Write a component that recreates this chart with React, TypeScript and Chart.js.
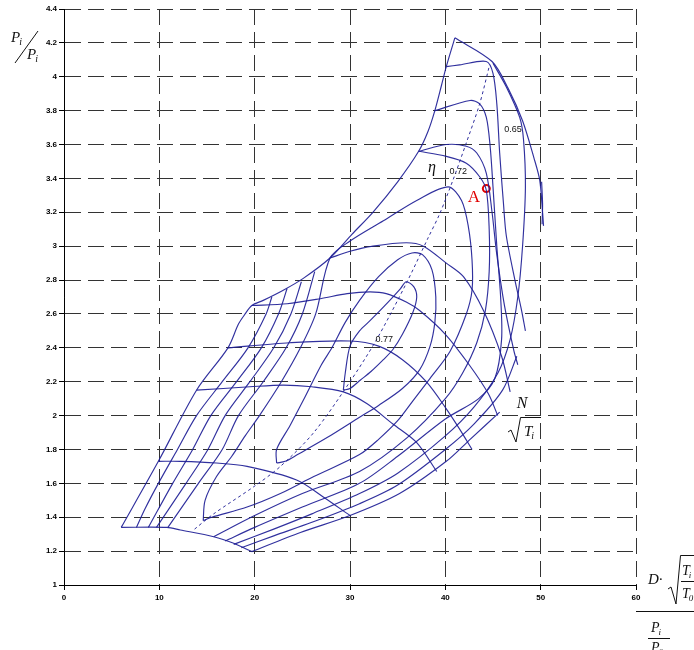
import React, { useEffect, useRef } from "react";
import { Chart, registerables } from "chart.js";
Chart.register(...registerables);

type Pt = [number, number];

const xTickValues = [0, 10, 20, 30, 40, 50, 60];
const yTickValues = [1, 1.2, 1.4, 1.6, 1.8, 2, 2.2, 2.4, 2.6, 2.8, 3, 3.2, 3.4, 3.6, 3.8, 4, 4.2, 4.4];

// map boundaries
const surgeLine: Pt[] = [[6, 1.34], [9.9, 1.73], [13.9, 2.15], [17.2, 2.4], [18.3, 2.54], [19, 2.6], [19.7, 2.65], [20.9, 2.68], [23, 2.74], [25.1, 2.81], [27.9, 2.93], [30.2, 3.07], [32.4, 3.2], [35, 3.38], [37.2, 3.56], [38.2, 3.68], [38.9, 3.8], [39.6, 3.95], [40.1, 4.06], [41, 4.23]];
const topLine: Pt[] = [[41, 4.23], [44.9, 4.09], [46.6, 3.93], [48.1, 3.74], [49.3, 3.52], [49.9, 3.39], [50.2, 3.2], [50.3, 3.12]];
const topStub: Pt[] = [[50.1, 3.38], [50.2, 3.25], [50.15, 3.13]];
const bottomLine: Pt[] = [[6, 1.34], [10.8, 1.34], [12.2, 1.325], [15.7, 1.285], [17.8, 1.246], [19.7, 1.197]];

// speed lines N/sqrt(Ti)
const speed1: Pt[] = [[9.9, 1.73], [12.2, 1.73], [16, 1.72], [19.2, 1.7], [24.4, 1.62], [27.2, 1.52], [30, 1.41]];
const speed2: Pt[] = [[13.9, 2.15], [19.5, 2.17], [23, 2.18], [26, 2.17], [29.3, 2.14], [31.8, 2.07], [34.5, 1.95], [37, 1.84], [39.1, 1.67]];
const speed3: Pt[] = [[17.2, 2.4], [23.7, 2.43], [30, 2.44], [33, 2.41], [35.5, 2.33], [38, 2.2], [40.1, 2.04], [41.5, 1.92], [42.8, 1.8]];
const speed4: Pt[] = [[19.7, 2.65], [23.4, 2.66], [26.9, 2.69], [29.7, 2.72], [32.1, 2.73], [33.8, 2.72], [35.9, 2.67], [37.3, 2.62], [40, 2.48], [42.5, 2.3], [44.5, 2.13], [45.5, 2.0]];
const speed5: Pt[] = [[27.9, 2.93], [30, 2.97], [32.4, 3.0], [35.9, 3.02], [37.7, 3.0], [40.1, 2.9], [41.9, 2.82], [44, 2.62], [45.9, 2.35], [46.8, 2.14]];
const speed6: Pt[] = [[37.2, 3.56], [40.1, 3.6], [42.2, 3.59], [43.3, 3.55], [44.3, 3.43], [44.9, 3.2], [45.4, 2.95], [46.2, 2.65], [47.2, 2.38], [47.6, 2.3]];
const speed7: Pt[] = [[40.1, 4.06], [41.5, 4.07], [44.3, 4.09], [45, 4.02], [45.4, 3.84], [45.7, 3.55], [46.1, 3.25], [46.4, 3.06], [47.3, 2.8], [48, 2.62], [48.4, 2.5]];

// efficiency contours
const eff77: Pt[] = [[29.3, 2.15], [29.5, 2.25], [30, 2.41], [31, 2.5], [32.1, 2.56], [34, 2.67], [35.3, 2.75], [35.9, 2.79], [36.7, 2.76], [37, 2.7], [36.6, 2.61], [35.5, 2.48], [34.5, 2.39], [33.5, 2.33], [32.2, 2.26], [31.1, 2.21], [30, 2.16], [29.3, 2.15]];
const eff75: Pt[] = [[22.3, 1.72], [22.3, 1.8], [23.7, 1.94], [25.1, 2.09], [27, 2.3], [28.1, 2.4], [29.5, 2.55], [31, 2.68], [33, 2.82], [35, 2.92], [36.5, 2.96], [37.6, 2.95], [38.6, 2.86], [39, 2.7], [38.9, 2.55], [38.4, 2.41], [37.3, 2.27], [35.5, 2.16], [33, 2.06], [31, 1.99], [27.6, 1.87], [24.5, 1.77], [23.2, 1.73], [22.3, 1.72]];
const eff72: Pt[] = [[14.6, 1.38], [14.8, 1.5], [16, 1.64], [17.6, 1.76], [19, 1.88], [20.5, 2.0], [22.8, 2.2], [24.8, 2.4], [26.4, 2.6], [27.9, 2.93], [30, 3.03], [33.5, 3.15], [37, 3.27], [40.3, 3.35], [41.7, 3.27], [42.4, 3.12], [42.8, 2.92], [42.8, 2.74], [42.2, 2.6], [40.5, 2.38], [38.4, 2.22], [36.5, 2.08], [35, 1.97], [33, 1.86], [31, 1.77], [26.2, 1.64], [22.7, 1.54], [19.2, 1.46], [15.5, 1.4], [14.6, 1.38]];
const eff70: Pt[] = [[37.2, 3.56], [40.1, 3.53], [42.2, 3.49], [43.6, 3.41], [44.3, 3.33], [44.6, 3.1], [44.6, 2.85], [44.2, 2.62], [43.3, 2.43], [41.8, 2.25], [40, 2.1], [36, 1.87], [31, 1.67], [25, 1.54], [20, 1.41], [15.7, 1.285]];
const eff68: Pt[] = [[38.9, 3.8], [42.6, 3.86], [43.6, 3.84], [44.3, 3.76], [44.7, 3.59], [45, 3.35], [45.4, 3.0], [45.8, 2.7], [45.9, 2.45], [45.2, 2.22], [43.5, 2.1], [40, 1.98], [35, 1.76], [31, 1.6], [25, 1.46], [20, 1.34], [16.9, 1.26]];
const eff65: Pt[] = [[17.8, 1.24], [22, 1.33], [26, 1.42], [31, 1.54], [35, 1.66], [40, 1.88], [43, 2.05], [45.5, 2.25], [46.8, 2.45], [47.6, 2.7], [48.1, 3.0], [48.4, 3.35], [48.2, 3.63], [47.8, 3.76], [46.4, 3.94], [45, 4.08]];
const eff62: Pt[] = [[18.6, 1.22], [22, 1.29], [26, 1.37], [31, 1.48], [35, 1.59], [40, 1.8], [43, 1.95], [46, 2.15], [47.5, 2.35]];
const eff60: Pt[] = [[19.7, 1.197], [24.8, 1.31], [30, 1.41], [35.2, 1.54], [40.1, 1.73], [42.6, 1.86], [45.7, 2.02]];
const diag1: Pt[] = [[7.6, 1.34], [8.5, 1.45], [9.9, 1.6], [11.9, 1.8], [13.9, 2.0], [16.6, 2.2], [19.3, 2.4], [21.2, 2.6], [21.8, 2.7]];
const diag2: Pt[] = [[8.85, 1.34], [11.4, 1.6], [13.5, 1.8], [15.4, 2.0], [18.1, 2.2], [20.7, 2.4], [22.5, 2.6], [23.4, 2.75]];
const diag3: Pt[] = [[9.7, 1.34], [12.8, 1.6], [15.1, 1.8], [16.9, 2.0], [19.5, 2.2], [22, 2.4], [23.8, 2.6], [24.9, 2.79]];
const diag4: Pt[] = [[10.9, 1.34], [14.1, 1.6], [16.6, 1.8], [18.3, 2.0], [20.9, 2.2], [23.3, 2.4], [25, 2.6], [26.3, 2.85]];

// optimum efficiency line (dashed) and operating point A
const optimumLine: Pt[] = [[13.7, 1.33], [15.7, 1.42], [19.9, 1.58], [22.7, 1.7], [26.2, 1.9], [30, 2.2], [32.8, 2.45], [35.9, 2.78], [38.2, 3.05], [39.4, 3.19], [40.8, 3.39], [42.2, 3.61], [43.6, 3.84], [44.6, 4.06]];
const pointA: Pt[] = [[44.3, 3.34]];

const effLabels = [
  { text: "0.77", x: 33.6, y: 2.45 },
  { text: "0.72", x: 41.35, y: 3.44 },
  { text: "0.65", x: 47.1, y: 3.69 },
];

const BLUE = "rgba(30,30,150,0.92)";
const SERIF = '"Liberation Serif", "DejaVu Serif", serif';

const solidSeries: Pt[][] = [
  surgeLine, topLine, topStub, bottomLine,
  speed1, speed2, speed3, speed4, speed5, speed6, speed7,
  eff77, eff75, eff72, eff70, eff68, eff65, eff62, eff60,
  diag1, diag2, diag3, diag4,
];

function sub(ctx: CanvasRenderingContext2D, base: string, s: string, x: number, y: number, size: number) {
  ctx.font = `italic ${size}px ${SERIF}`;
  ctx.textAlign = "left";
  ctx.textBaseline = "alphabetic";
  ctx.fillText(base, x, y);
  const w = ctx.measureText(base).width;
  ctx.font = `italic ${Math.round(size * 0.65)}px ${SERIF}`;
  ctx.fillText(s, x + w - 1, y + 3);
}

const annotPlugin = {
  id: "annot",
  afterDatasetsDraw(chart: any) {
    const { ctx } = chart;
    const xs = chart.scales.x;
    const ys = chart.scales.y;
    ctx.save();
    ctx.fillStyle = "#111";
    ctx.font = `9px "Liberation Sans", Arial, sans-serif`;
    ctx.textAlign = "center";
    ctx.textBaseline = "middle";
    for (const l of effLabels) {
      ctx.fillText(l.text, xs.getPixelForValue(l.x), ys.getPixelForValue(l.y));
    }
    ctx.font = `italic 16px ${SERIF}`;
    ctx.fillText("η", xs.getPixelForValue(38.6), ys.getPixelForValue(3.46));
    ctx.fillStyle = "#e00000";
    ctx.font = `17px ${SERIF}`;
    ctx.fillText("A", xs.getPixelForValue(43.0), ys.getPixelForValue(3.29));
    ctx.restore();

    ctx.save();
    ctx.fillStyle = "#111";
    ctx.strokeStyle = "#111";
    ctx.lineWidth = 1;
    ctx.font = `italic 16px ${SERIF}`;
    ctx.textAlign = "center";
    ctx.textBaseline = "alphabetic";
    ctx.fillText("N", 522, 408);
    ctx.beginPath();
    ctx.moveTo(508, 432);
    ctx.lineTo(511, 430);
    ctx.lineTo(516, 442);
    ctx.lineTo(520.5, 417.5);
    ctx.lineTo(541, 417.5);
    ctx.stroke();
    sub(ctx, "T", "i", 524, 436, 15);

    // y-axis title
    sub(ctx, "P", "i", 11, 42, 15);
    ctx.beginPath();
    ctx.moveTo(15, 63);
    ctx.lineTo(38, 31);
    ctx.stroke();
    sub(ctx, "P", "i", 27, 59, 15);

    // x-axis title
    ctx.font = `italic 15px ${SERIF}`;
    ctx.textAlign = "left";
    ctx.fillText("D·", 648, 584);
    ctx.beginPath();
    ctx.moveTo(668, 589);
    ctx.lineTo(671, 587);
    ctx.lineTo(676, 604);
    ctx.lineTo(680.5, 555.5);
    ctx.lineTo(694, 555.5);
    ctx.stroke();
    sub(ctx, "T", "i", 682, 575, 14);
    ctx.beginPath();
    ctx.moveTo(681, 581.5);
    ctx.lineTo(694, 581.5);
    ctx.stroke();
    sub(ctx, "T", "0", 682, 598, 14);
    ctx.beginPath();
    ctx.moveTo(636, 611.5);
    ctx.lineTo(694, 611.5);
    ctx.stroke();
    sub(ctx, "P", "i", 651, 632, 14);
    ctx.beginPath();
    ctx.moveTo(648, 638.5);
    ctx.lineTo(670, 638.5);
    ctx.stroke();
    sub(ctx, "P", "0", 651, 652, 14);
    ctx.restore();
  },
};

export default function App() {
  const ref = useRef<HTMLCanvasElement>(null);
  useEffect(() => {
    document.body.style.margin = "0";
    const canvas = ref.current;
    if (!canvas) return;
    const toXY = (pts: Pt[]) => pts.map(([x, y]) => ({ x, y }));
    const datasets: any[] = solidSeries.map((pts) => ({
      data: toXY(pts),
      showLine: true,
      borderColor: BLUE,
      borderWidth: 1.15,
      pointRadius: 0,
      tension: 0.3,
      fill: false,
    }));
    datasets.push({
      data: toXY(optimumLine),
      showLine: true,
      borderColor: BLUE,
      borderWidth: 1,
      borderDash: [3, 3],
      pointRadius: 0,
      tension: 0.3,
      fill: false,
    });
    datasets.push({
      data: toXY(pointA),
      showLine: false,
      pointRadius: 3.5,
      pointBorderWidth: 2,
      pointBorderColor: "#e00000",
      pointBackgroundColor: "rgba(255,255,255,0)",
    });
    const tickFont = { family: '"Liberation Sans", Arial, sans-serif', size: 8, weight: "bold" as const };
    const grid = {
      color: "#333",
      lineWidth: 1,
      drawTicks: true,
      tickLength: 5,
      tickColor: "#000",
      tickBorderDash: [],
    };
    const border = { display: true, color: "#000", width: 1, dash: [16, 7] };
    const chart = new Chart(canvas, {
      type: "scatter",
      data: { datasets },
      options: {
        animation: false,
        responsive: false,
        devicePixelRatio: 1,
        events: [],
        layout: { padding: { top: 9, right: 58, left: 0, bottom: 0 } },
        plugins: { legend: { display: false }, tooltip: { enabled: false } },
        scales: {
          x: {
            type: "linear",
            min: 0,
            max: 60,
            afterBuildTicks: (s: any) => {
              s.ticks = xTickValues.map((v) => ({ value: v }));
            },
            afterFit: (s: any) => {
              s.height = 65;
            },
            ticks: { font: tickFont, color: "#000", padding: 3, maxRotation: 0, callback: (v: any) => String(v) },
            grid,
            border,
          },
          y: {
            type: "linear",
            min: 1,
            max: 4.4,
            afterBuildTicks: (s: any) => {
              s.ticks = yTickValues.map((v) => ({ value: v }));
            },
            afterFit: (s: any) => {
              s.width = 64;
            },
            ticks: { font: tickFont, color: "#000", padding: 2, callback: (v: any) => String(Math.round(Number(v) * 10) / 10) },
            grid,
            border,
          },
        },
      } as any,
      plugins: [annotPlugin],
    });
    return () => chart.destroy();
  }, []);
  return (
    <div style={{ width: 694, height: 650, background: "#fff" }}>
      <canvas ref={ref} width={694} height={650} style={{ display: "block" }} />
    </div>
  );
}
